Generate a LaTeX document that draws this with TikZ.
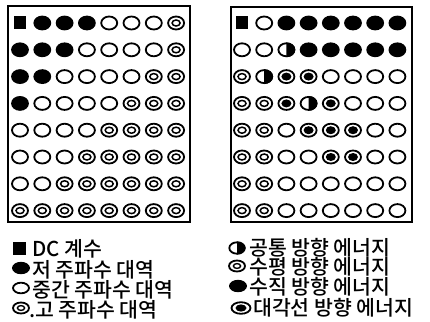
\documentclass[tikz,border=0pt]{standalone}
\usepackage{fontspec}
\newfontfamily\kr{Noto Sans CJK KR}[UprightFont=* Medium]
\tikzset{
  frame/.style={line width=2pt},
  lg/.style={anchor=west, inner sep=0pt, font=\kr\fontsize{20.5}{20.5}\selectfont},
  pics/S/.style={code={\fill (-6,-6.5) rectangle (6,6.5);}},
  pics/L/.style={code={\fill (0,0) ellipse [x radius=8.9pt, y radius=7.4pt];}},
  pics/M/.style={code={\draw[line width=1.8pt] (0,0) ellipse [x radius=8pt, y radius=6.5pt];}},
  pics/H/.style={code={\draw[line width=1.8pt] (0,0) ellipse [x radius=8pt, y radius=6.5pt];
                      \draw[line width=1.5pt] (0,0) ellipse [x radius=4pt, y radius=3pt];}},
  pics/A/.style={code={\begin{scope}\clip (0,-10) rectangle (10,10);
                      \fill (0,0) ellipse [x radius=8.9pt, y radius=7.4pt];\end{scope}
                      \draw[line width=1.8pt] (0,0) ellipse [x radius=8pt, y radius=6.5pt];}},
  pics/D/.style={code={\draw[line width=1.8pt] (0,0) ellipse [x radius=8pt, y radius=6.5pt];
                      \fill (0,0) ellipse [x radius=5pt, y radius=4pt];}},
  pics/sS/.style={code={\fill (-6.5,-6.5) rectangle (6.5,6.5);}},
  pics/sL/.style={code={\fill (0,0) ellipse [x radius=9pt, y radius=6.2pt];}},
  pics/sM/.style={code={\draw[line width=1.8pt] (0,0) ellipse [x radius=8pt, y radius=5.3pt];}},
  pics/sH/.style={code={\draw[line width=1.8pt] (0,0) ellipse [x radius=8pt, y radius=5.5pt];
                      \draw[line width=1.4pt] (0,0) ellipse [x radius=3.6pt, y radius=2.4pt];}},
  pics/sA/.style={code={\begin{scope}\clip (0,-10) rectangle (10,10);
                      \fill (0,0) ellipse [x radius=8.6pt, y radius=6.6pt];\end{scope}
                      \draw[line width=1.8pt] (0,0) ellipse [x radius=7.7pt, y radius=5.7pt];}},
  pics/sD/.style={code={\draw[line width=1.8pt] (0,0) ellipse [x radius=9.5pt, y radius=5.8pt];
                      \fill (0,0) ellipse [x radius=5.5pt, y radius=3.6pt];}},
}
\begin{document}
\begin{tikzpicture}[x=1pt,y=-1pt]
\useasboundingbox (0,0) rectangle (430,321);
% frames
\draw[frame] (8,6) rectangle (190,222);
\draw[frame] (231,7) rectangle (412,222);
% left grid
\foreach \row [count=\j] in {{S,L,L,L,M,M,M,H},{L,L,L,M,M,M,M,H},{L,L,M,M,M,M,H,H},{L,M,M,M,M,H,H,H},
  {M,M,M,M,H,H,H,H},{M,M,M,H,H,H,H,H},{M,M,H,H,H,H,H,H},{H,H,H,H,H,H,H,H}}{
  \foreach \c [count=\i] in \row {
    \pic at ({20+22.3*(\i-1)},{23+26.8*(\j-1)}) {\c};
  }
}
% right grid
\foreach \row [count=\j] in {{S,M,L,L,L,L,L,L},{M,M,A,L,L,L,L,L},{H,A,D,D,M,M,M,M},{H,H,D,A,D,M,M,M},
  {H,H,M,D,D,D,M,M},{H,H,M,M,D,D,M,M},{H,H,M,M,M,M,M,M},{H,H,M,M,M,M,M,M}}{
  \foreach \c [count=\i] in \row {
    \pic at ({242+22.2*(\i-1)},{23+26.8*(\j-1)}) {\c};
  }
}
% left legend
\pic at (19,248) {sS};
\node[lg] (l1) at (32,249) {DC 계수};
\pic at (21,268) {sL};
\node[lg] (l2) at (32,269.5) {저 주파수 대역};
\pic at (21,288) {sM};
\node[lg] (l3) at (32,290) {중간 주파수 대역};
\pic at (21,308) {sH};
\node[lg] (l4) at (29,310) {.고 주파수 대역};
% right legend
\pic at (237,248) {sA};
\node[lg] (r1) at (249,248) {공통 방향 에너지};
\pic at (237,266) {sH};
\node[lg] (r2) at (249,267) {수평 방향 에너지};
\pic at (238,286) {sL};
\node[lg] (r3) at (249,287) {수직 방향 에너지};
\pic at (241,308) {sD};
\node[lg] (r4) at (253,308) {대각선 방향 에너지};
\end{tikzpicture}
\end{document}
